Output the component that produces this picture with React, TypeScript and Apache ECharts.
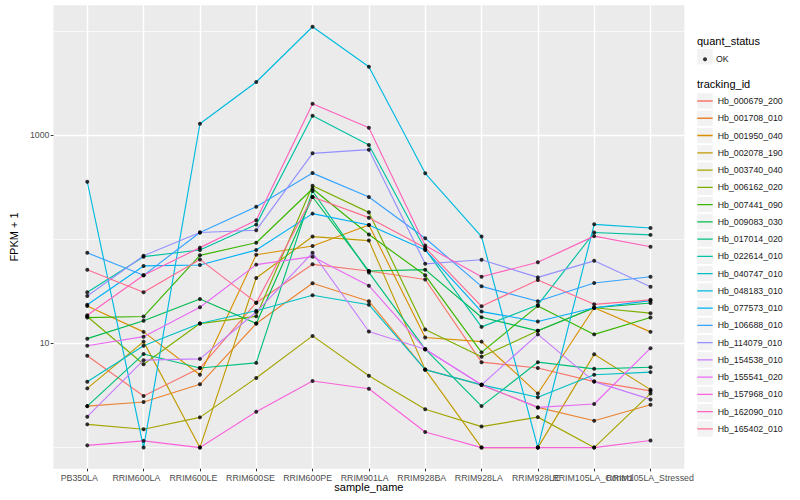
import React, { useEffect, useRef } from "react";
import * as echarts from "echarts";

const categories = [
  "PB350LA", "RRIM600LA", "RRIM600LE", "RRIM600SE", "RRIM600PE", "RRIM901LA",
  "RRIM928BA", "RRIM928LA", "RRIM928LE", "RRIM105LA_Control", "RRIM105LA_Stressed",
];

const trackingIds = [
  "Hb_000679_200", "Hb_001708_010", "Hb_001950_040", "Hb_002078_190", "Hb_003740_040",
  "Hb_006162_020", "Hb_007441_090", "Hb_009083_030", "Hb_017014_020", "Hb_022614_010",
  "Hb_040747_010", "Hb_048183_010", "Hb_077573_010", "Hb_106688_010", "Hb_114079_010",
  "Hb_154538_010", "Hb_155541_020", "Hb_157968_010", "Hb_162090_010", "Hb_165402_010",
];

// FPKM + 1 per sample, in category order
const hb000679 = [7.6, 3.13, 5.8, 24.6, 57.4, 49.5, 41, 6.6, 5.8, 4.3, 3.5];
const hb001708 = [2.5, 2.74, 4.05, 15.5, 37.8, 25.4, 5.6, 4.0, 2.43, 1.81, 2.58];
const hb001950 = [22.9, 12.9, 5.0, 71, 86, 137, 11.4, 10.4, 3.3, 22, 12.9];
const hb002078 = [3.7, 10.4, 1.0, 42.5, 106, 97, 5.6, 1.0, 1.0, 7.85, 3.6];
const hb003740 = [1.67, 1.5, 1.95, 4.66, 11.8, 4.9, 2.33, 1.59, 1.96, 1.0, 3.3];
const hb006162 = [18.1, 6.3, 15.5, 18.2, 326, 181, 13.6, 7.45, 13.2, 22, 19.5];
const hb007441 = [17.7, 18.1, 70, 92.5, 305, 111, 45, 8.2, 22.9, 12.2, 17.7];
const hb009083 = [11.1, 16.5, 26.7, 15.5, 254, 49.5, 51, 17.8, 13.2, 22, 24.4];
const hb017014 = [2.5, 7.9, 5.8, 6.5, 290, 48, 8.8, 2.5, 6.6, 5.7, 5.9];
const hb022614 = [31, 68, 78.7, 138, 1531, 802, 80, 14.4, 23.4, 116, 110];
const hb040747 = [4.29, 9.5, 15.5, 20.6, 29, 23.5, 5.6, 4.0, 3.04, 5.0, 5.3];
const hb048183 = [356, 1.0, 1283, 3226, 10940, 4520, 429, 106, 1.0, 139, 128];
const hb077573 = [23.5, 55.4, 56.5, 78.7, 176, 137, 78.7, 20.2, 16.2, 22, 25.7];
const hb106688 = [74, 45, 116, 205, 431, 254, 102, 35.3, 25.4, 38, 43.6];
const hb114079 = [28.5, 69.5, 116, 122, 667, 723, 58, 63.5, 43, 62, 35];
const hb154538 = [1.98, 6.9, 7.1, 20, 74, 13, 8.8, 4.0, 12.2, 4.3, 2.9];
const hb155541 = [9.5, 11.6, 22.2, 57, 68, 35.8, 8.8, 4.0, 2.43, 2.62, 9.0];
const hb157968 = [1.05, 1.16, 1.0, 2.21, 4.35, 3.67, 1.41, 1.0, 1.0, 1.0, 1.17];
const hb162090 = [18.6, 45, 83, 152, 1995, 1175, 87, 43.6, 60, 107, 84.7];
const hb165402 = [51, 31, 64, 24.6, 254, 161, 83, 22.7, 40.6, 23.7, 26.2];

const seriesValues = [
  hb000679, hb001708, hb001950, hb002078, hb003740, hb006162, hb007441, hb009083,
  hb017014, hb022614, hb040747, hb048183, hb077573, hb106688, hb114079, hb154538,
  hb155541, hb157968, hb162090, hb165402,
];

const yTickLabels = [10, 1000];
const yMinorBreaks = [1, 100, 10000];

const palette = [
  "#F8766D", "#EA8331", "#D89000", "#C09B00", "#A3A500", "#7CAE00", "#39B600", "#00BB4E",
  "#00BF7D", "#00C1A3", "#00BFC4", "#00BAE0", "#00B0F6", "#35A2FF", "#9590FF", "#C77CFF",
  "#E76BF3", "#FA62DB", "#FF62BC", "#FF6C91",
];

const Y_MIN = 0.627;
const Y_MAX = 17580;
const X_EXPAND = 0.6;

export default function App() {
  const ref = useRef<HTMLDivElement>(null);

  useEffect(() => {
    if (!ref.current) return;
    const chart = echarts.init(ref.current, null, { renderer: "svg" });
    const font = "'Liberation Sans', Arial, Helvetica, sans-serif";
    const idx = categories.map((_, i) => i);

    // panel geometry
    const pLeft = 45;
    const pTop = 5.3;
    const pWidth = 639.3;
    const pHeight = 463.4;
    const unit = pWidth / (categories.length - 1 + 2 * X_EXPAND);
    const bandLeft = pLeft + (X_EXPAND - 0.5) * unit;
    const bandWidth = unit * categories.length;

    const lineSeries = trackingIds.map((id, k) => ({
      name: id,
      type: "line",
      xAxisIndex: 0,
      yAxisIndex: 0,
      data: seriesValues[k].map((v, i) => [i, v]),
      showSymbol: false,
      symbol: "none",
      silent: true,
      z: 2,
      lineStyle: { color: palette[k], width: 1.15 },
      itemStyle: { color: palette[k] },
    }));

    const points: number[][] = [];
    seriesValues.forEach((vals) => vals.forEach((v, i) => points.push([i, v])));

    const keyIcon =
      "path://M0,0h0.01v0.01h-0.01z M0,7.98h15.4v1.3h-15.4z M15.39,17.25h0.01v0.01h-0.01z";

    const legendTop = 92.37;
    const step = 17.26;
    const boxes: any[] = trackingIds.map((_, i) => ({
      type: "rect",
      z: 0,
      silent: true,
      shape: { x: 697.3, y: legendTop + i * step + 0.93, width: 15.4, height: 15.4 },
      style: { fill: "#F2F2F2" },
    }));
    boxes.push({
      type: "rect",
      z: 0,
      silent: true,
      shape: { x: 697.3, y: 49, width: 15.4, height: 15.4 },
      style: { fill: "#F2F2F2" },
    });
    boxes.push({
      type: "text",
      z: 1,
      x: 697,
      y: 40.7,
      style: { text: "quant_status", fontSize: 11, fontFamily: font, fill: "#000", verticalAlign: "middle" },
    });
    boxes.push({
      type: "text",
      z: 1,
      x: 697,
      y: 84.3,
      style: { text: "tracking_id", fontSize: 11, fontFamily: font, fill: "#000", verticalAlign: "middle" },
    });

    chart.setOption({
      animation: false,
      backgroundColor: "#ffffff",
      textStyle: { fontFamily: font },
      grid: [
        {
          left: pLeft,
          top: pTop,
          width: pWidth,
          height: pHeight,
          show: true,
          backgroundColor: "#EBEBEB",
          borderWidth: 0,
          containLabel: false,
        },
        {
          left: bandLeft,
          top: pTop,
          width: bandWidth,
          height: pHeight,
          show: false,
          containLabel: false,
        },
      ],
      xAxis: [
        {
          type: "value",
          gridIndex: 0,
          min: -X_EXPAND,
          max: categories.length - 1 + X_EXPAND,
          axisLine: { show: false },
          axisTick: { show: true, length: 2.7, customValues: idx, lineStyle: { color: "#333333", width: 1 } },
          axisLabel: { show: false, customValues: idx },
          splitLine: { show: true, lineStyle: { color: "#FFFFFF", width: 1.4 } },
          name: "sample_name",
          nameLocation: "middle",
          nameGap: 13,
          nameTextStyle: { fontSize: 11, color: "#000", verticalAlign: "top", fontFamily: font },
        },
        {
          type: "category",
          gridIndex: 1,
          data: categories,
          boundaryGap: true,
          axisLine: { show: false },
          axisTick: { show: false },
          splitLine: { show: false },
          axisLabel: {
            interval: 0,
            fontSize: 8.8,
            color: "#4D4D4D",
            margin: 4.5,
            fontFamily: font,
            hideOverlap: false,
          },
        },
      ],
      yAxis: [
        {
          type: "log",
          logBase: 10,
          gridIndex: 0,
          position: "left",
          min: Y_MIN,
          max: Y_MAX,
          axisLine: { show: false },
          axisTick: { show: false, customValues: yMinorBreaks },
          axisLabel: { show: false },
          splitLine: { show: true, lineStyle: { color: "#FFFFFF", width: 0.7 } },
        },
        {
          type: "log",
          logBase: 100,
          gridIndex: 0,
          position: "left",
          offset: 0,
          min: Y_MIN * 10,
          max: Y_MAX * 10,
          axisLine: { show: false },
          axisTick: {
            show: true,
            length: 2.7,
            customValues: yTickLabels.map((v) => v * 10),
            lineStyle: { color: "#333333", width: 1 },
          },
          axisLabel: {
            customValues: yTickLabels.map((v) => v * 10),
            formatter: (v: number) => String(Math.round(v / 10)),
            fontSize: 8.8,
            color: "#4D4D4D",
            margin: 4,
            fontFamily: font,
            showMinLabel: true,
            showMaxLabel: true,
          },
          splitLine: { show: true, lineStyle: { color: "#FFFFFF", width: 1.4 } },
          name: "FPKM + 1",
          nameLocation: "middle",
          nameGap: 27,
          nameRotate: 90,
          nameTextStyle: { fontSize: 11, color: "#000", fontFamily: font },
        },
        {
          type: "value",
          gridIndex: 1,
          show: false,
          min: 0,
          max: 1,
        },
      ],
      legend: [
        {
          orient: "vertical",
          left: 697.3,
          top: legendTop,
          padding: 0,
          itemGap: 0,
          itemWidth: 15.4,
          itemHeight: step,
          selectedMode: false,
          z: 5,
          itemStyle: { borderWidth: 0 },
          textStyle: { fontSize: 8.8, color: "#1A1A1A", fontFamily: font },
          data: trackingIds.map((id, k) => ({
            name: id,
            icon: keyIcon,
            itemStyle: { color: palette[k], borderWidth: 0 },
          })),
        },
        {
          orient: "vertical",
          left: 703,
          top: 54.7,
          padding: 0,
          itemWidth: 4,
          itemHeight: 4,
          selectedMode: false,
          z: 5,
          itemStyle: { borderWidth: 0 },
          textStyle: { fontSize: 8.8, color: "#1A1A1A", fontFamily: font, padding: [0, 0, 0, 4] },
          data: [{ name: "OK", icon: "circle", itemStyle: { color: "#000000" } }],
        },
      ],
      graphic: boxes,
      series: [
        ...lineSeries,
        {
          name: "OK",
          type: "scatter",
          xAxisIndex: 0,
          yAxisIndex: 0,
          data: points,
          symbol: "circle",
          symbolSize: 4,
          silent: true,
          z: 3,
          itemStyle: { color: "#000000" },
        },
      ],
    });

    return () => chart.dispose();
  }, []);

  return (
    <div
      ref={ref}
      style={{ position: "fixed", left: 0, top: 0, width: 800, height: 500 }}
    />
  );
}
